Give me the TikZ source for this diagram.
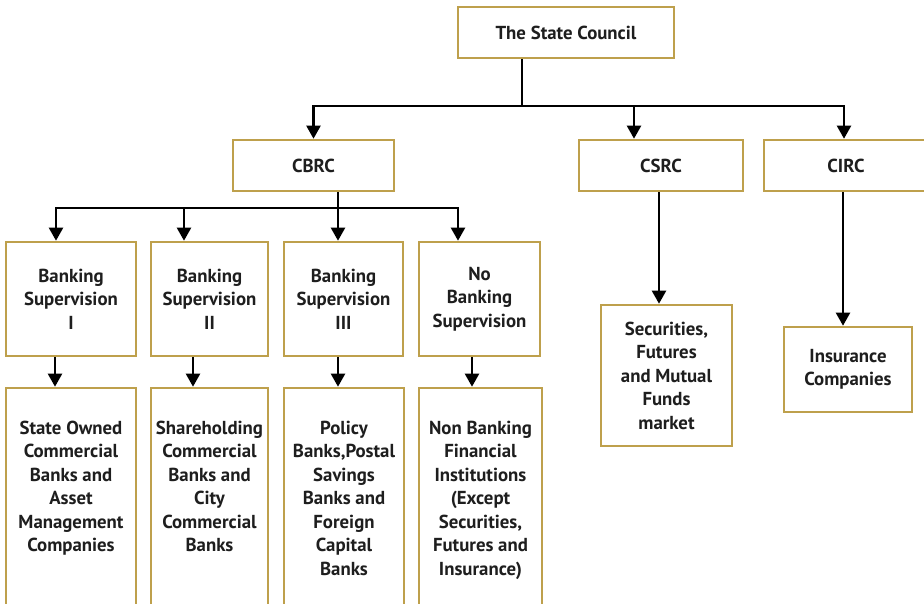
\documentclass[tikz,border=0pt]{standalone}
\usepackage{fontspec}
\setmainfont{PT Sans}
\usepackage{xcolor}
\usetikzlibrary{arrows.meta}
\definecolor{gold}{HTML}{BEA04C}
\definecolor{ink}{HTML}{1E1E1E}
\tikzset{
  box/.style={draw=gold, line width=2.6pt, fill=white, text=ink, align=center,
    inner sep=2pt, font=\fontsize{18.8}{23.5}\selectfont\bfseries},
  boxtext/.style={text=ink, align=center, inner sep=0pt, anchor=north,
    font=\fontsize{18.8}{23.5}\selectfont\bfseries},
  arr/.style={-{Triangle[width=14pt,length=13pt]}, line width=2.2pt},
  link/.style={line width=2.2pt}
}
\begin{document}
\begin{tikzpicture}[x=1pt, y=-1pt]
    \clip (0,0) rectangle (924,603);
    \fill[white] (0,0) rectangle (924,603);
    \node[box, minimum width=216pt, minimum height=51pt] (council) at (566,32.5) {The State Council};
    \node[box, minimum width=161pt, minimum height=51pt] (cbrc) at (313.5,165.5) {CBRC};
    \node[box, minimum width=164pt, minimum height=51pt] (csrc) at (661,165.5) {CSRC};
    \node[box, minimum width=164pt, minimum height=51pt] (circ) at (846,165.5) {CIRC};
    \node[box, minimum width=130pt, minimum height=114pt] (bsone) at (71,299) {Banking\\Supervision\\I};
    \node[box, minimum width=117pt, minimum height=114pt] (bstwo) at (209.5,299) {Banking\\Supervision\\II};
    \node[box, minimum width=119pt, minimum height=114pt] (bsthree) at (343.5,299) {Banking\\Supervision\\III};
    \node[box, minimum width=121pt, minimum height=114pt] (nobs) at (479.5,299) {No\\Banking\\Supervision};
    \node[box, minimum width=130pt, minimum height=232pt] (stateowned) at (71,504) {};
    \node[box, minimum width=117pt, minimum height=232pt] (sharehold) at (209.5,504) {};
    \node[box, minimum width=120pt, minimum height=232pt] (policy) at (344,504) {};
    \node[box, minimum width=123pt, minimum height=232pt] (nonbank) at (480.5,504) {};
    \node[boxtext] (stateownedtext) at ([yshift=-34pt]stateowned.north) {State Owned\\Commercial\\Banks and\\Asset\\Management\\Companies};
    \node[boxtext] (shareholdtext) at ([yshift=-34pt]sharehold.north) {Shareholding\\Commercial\\Banks and\\City\\Commercial\\Banks};
    \node[boxtext] (policytext) at ([yshift=-34pt]policy.north) {Policy\\Banks,Postal\\Savings\\Banks and\\Foreign\\Capital\\Banks};
    \node[boxtext] (nonbanktext) at ([yshift=-34pt]nonbank.north) {Non Banking\\Financial\\Institutions\\(Except\\Securities,\\Futures and\\Insurance)};
    \node[box, minimum width=131pt, minimum height=141pt] (securities) at (666.5,375.5) {Securities,\\Futures\\and Mutual\\Funds\\market};
    \node[box, minimum width=128pt, minimum height=85pt] (insurance) at (848,369.5) {Insurance\\Companies};
    \coordinate (topjoin) at (522,106);
    \coordinate (cbrcjoin) at (338,208);
    \draw[link] (council.south -| topjoin) -- (topjoin);
    \draw[arr] (topjoin) -| (cbrc.north);
    \draw[arr] (topjoin) -| ([xshift=-27pt]csrc.north);
    \draw[arr] (topjoin) -| ([xshift=-2pt]circ.north);
    \draw[link] (cbrc.south -| cbrcjoin) -- (cbrcjoin);
    \draw[arr] (cbrcjoin) -| ([xshift=-15pt]bsone.north);
    \draw[arr] (cbrcjoin) -| ([xshift=-25.5pt]bstwo.north);
    \draw[arr] (cbrcjoin) -- ([xshift=-5.5pt]bsthree.north);
    \draw[arr] (cbrcjoin) -| ([xshift=-21.5pt]nobs.north);
    \draw[arr] ([xshift=-16pt]bsone.south) -- ([xshift=-16pt]bsone.south |- stateowned.north);
    \draw[arr] ([xshift=-16.5pt]bstwo.south) -- ([xshift=-16.5pt]bstwo.south |- sharehold.north);
    \draw[arr] ([xshift=-5.5pt]bsthree.south) -- ([xshift=-5.5pt]bsthree.south |- policy.north);
    \draw[arr] ([xshift=-7.5pt]nobs.south) -- ([xshift=-7.5pt]nobs.south |- nonbank.north);
    \draw[arr] ([xshift=-2pt]csrc.south) -- ([xshift=-2pt]csrc.south |- securities.north);
    \draw[arr] ([xshift=-3pt]circ.south) -- ([xshift=-3pt]circ.south |- insurance.north);
\end{tikzpicture}
\end{document}
